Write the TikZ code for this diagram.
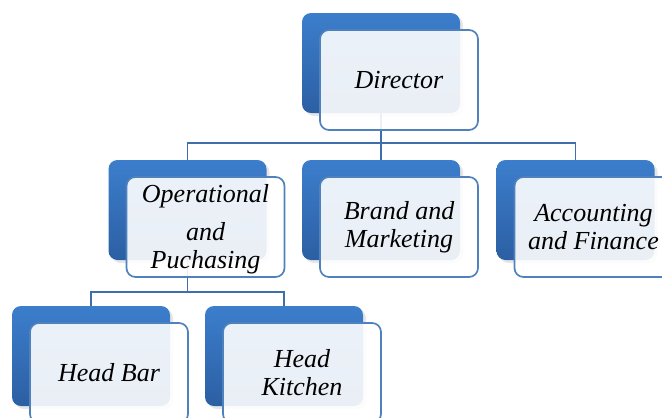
\documentclass[tikz,border=0pt]{standalone}
\usepackage{fontspec}
\setmainfont{Liberation Serif}
\usetikzlibrary{shadows}

\definecolor{unitblue}{HTML}{3C7ECC}
\definecolor{unitdark}{HTML}{2C5FA3}
\definecolor{rimblue}{HTML}{4F81BD}
\definecolor{linkblue}{HTML}{3F6EAC}

\tikzset{
  backbox/.style={rounded corners=9pt, minimum width=158pt, minimum height=100pt,
    top color=unitblue, bottom color=unitdark, draw=none,
    drop shadow={opacity=0.2, shadow xshift=3pt, shadow yshift=-3pt}},
  frontbox/.style={rounded corners=9pt, minimum width=158pt, minimum height=100pt,
    draw=rimblue, line width=1.7pt, fill=white, fill opacity=0.9, text opacity=1,
    align=center, inner sep=0pt},
  link/.style={draw=linkblue, line width=1.8pt}
}

\begin{document}
\begin{tikzpicture}[x=1pt, y=-1pt, font=\fontsize{26}{28}\selectfont\itshape]
  \clip (0,0) rectangle (662,418);

  % back tiles
  \node[backbox] (dirB)   at (381,63)  {};
  \node[backbox] (opsB)   at (187.5,210) {};
  \node[backbox] (brandB) at (381,210) {};
  \node[backbox] (accB)   at (575.5,210) {};
  \node[backbox] (barB)   at (91,356)  {};
  \node[backbox] (kitB)   at (284,356) {};

  % connectors
  \draw[link] (dirB.south) -- ++(0,30) -| (opsB.north);
  \draw[link] (dirB.south) -- ++(0,30) -| (accB.north);
  \draw[link] (dirB.south) -- (brandB.north);
  \draw[link] (opsB.south) -- ++(0,32) -| (barB.north);
  \draw[link] (opsB.south) -- ++(0,32) -| (kitB.north);

  % front tiles with the labels
  \node[frontbox] (dir)   at (399,80)  {Director};
  \node[frontbox] (ops)   at (205.5,227) {\rule{0pt}{22pt}Operational\\[10pt]and\\Puchasing};
  \node[frontbox] (brand) at (399,227) {Brand and\\Marketing};
  \node[frontbox] (acc)   at (593.5,227) {Accounting\\and Finance};
  \node[frontbox] (bar)   at (109,373) {Head Bar};
  \node[frontbox] (kit)   at (302,373) {Head\\Kitchen};
\end{tikzpicture}
\end{document}
